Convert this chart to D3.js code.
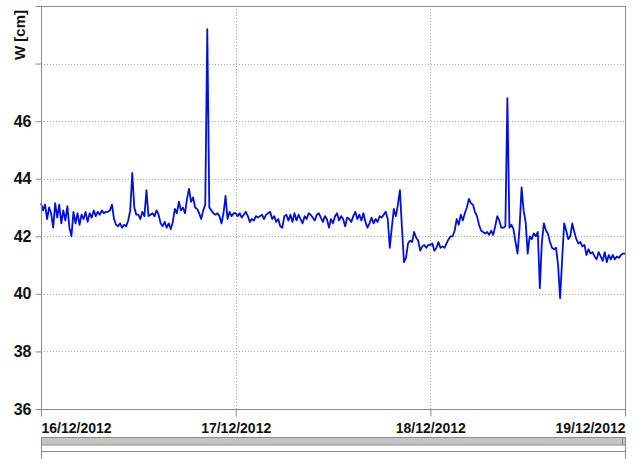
<!DOCTYPE html>
<html>
<head>
<meta charset="utf-8">
<script src="https://cdn.jsdelivr.net/npm/d3@7"></script>
<style>
  html, body { margin: 0; padding: 0; background: #fff; }
  svg { display: block; }
  text { font-family: "Liberation Sans", Arial, sans-serif; font-weight: bold; fill: #111; }
</style>
</head>
<body>
<svg id="chart" width="634" height="459"></svg>
<script>
// ---- data ----
const startDate = "2012-12-16T00:00:00Z";
const stepMinutes = 15;
const levelValues = [
  43.15, 42.9, 43.1, 42.6, 43.0, 42.8, 42.3, 43.15, 42.65, 43.1, 42.45, 42.9,
  42.55, 43.05, 42.3, 42.0, 42.85, 42.45, 42.8, 42.4, 42.75, 42.6, 42.85, 42.5,
  42.8, 42.65, 42.9, 42.7, 42.85, 42.75, 42.9, 42.8, 42.85, 42.85, 42.9, 43.1,
  42.6, 42.4, 42.35, 42.45, 42.3, 42.4, 42.35, 42.55, 42.9, 44.2, 43.0, 42.75,
  42.75, 42.6, 42.85, 42.7, 43.6, 42.7, 42.75, 42.8, 42.7, 42.9, 42.75, 42.45,
  42.35, 42.5, 42.3, 42.45, 42.25, 42.5, 42.95, 42.8, 43.2, 42.9, 43.0, 42.8,
  43.3, 43.65, 43.2, 43.35, 43.0, 42.95, 42.8, 42.6, 42.9, 43.1, 49.2, 43.0,
  42.9, 42.8, 42.75, 42.8, 42.7, 42.45, 42.8, 43.4, 42.6, 42.85, 42.7, 42.8,
  42.8, 42.7, 42.8, 42.65, 42.75, 42.85, 42.7, 42.5, 42.6, 42.55, 42.7, 42.65,
  42.7, 42.75, 42.6, 42.75, 42.8, 42.85, 42.6, 42.7, 42.5, 42.6, 42.35, 42.3,
  42.7, 42.75, 42.55, 42.75, 42.5, 42.8, 42.55, 42.75, 42.6, 42.45, 42.7, 42.6,
  42.8, 42.75, 42.65, 42.55, 42.75, 42.8, 42.65, 42.5, 42.7, 42.6, 42.3, 42.6,
  42.45, 42.7, 42.8, 42.55, 42.7, 42.6, 42.35, 42.65, 42.6, 42.5, 42.7, 42.85,
  42.6, 42.75, 42.55, 42.8, 42.5, 42.3, 42.45, 42.65, 42.45, 42.6, 42.5, 42.7,
  42.65, 42.75, 42.85, 42.6, 41.6, 42.3, 42.95, 42.7, 43.1, 43.6, 42.3, 41.1,
  41.25, 41.75, 41.85, 41.8, 42.15, 41.95, 41.85, 41.5, 41.65, 41.7, 41.6, 41.7,
  41.7, 41.75, 41.5, 41.6, 41.8, 41.6, 41.65, 41.6, 41.75, 41.9, 42.0, 42.0,
  42.2, 42.6, 42.4, 42.75, 42.55, 42.8, 43.0, 43.3, 43.15, 43.1, 42.85, 42.7,
  42.4, 42.2, 42.15, 42.1, 42.15, 42.05, 42.2, 42.05, 42.35, 42.7, 42.55, 42.3,
  42.3, 42.35, 46.8, 42.3, 42.4, 42.25, 41.8, 41.4, 42.3, 43.7, 42.9, 42.5,
  41.4, 42.0, 41.9, 42.1, 42.0, 42.15, 40.2, 41.8, 42.45, 42.2, 42.1, 41.8,
  41.6, 41.55, 41.6, 41.0, 39.85, 41.2, 42.45, 42.2, 41.9, 42.0, 42.45, 42.15,
  41.9, 41.75, 41.8, 41.65, 41.7, 41.35, 41.55, 41.4, 41.45, 41.3, 41.2, 41.45,
  41.3, 41.15, 41.45, 41.1, 41.35, 41.2, 41.35, 41.2, 41.3, 41.25, 41.35, 41.4,
  41.4
];
const xTickDates = ["2012-12-16T00:00:00Z", "2012-12-17T00:00:00Z", "2012-12-18T00:00:00Z", "2012-12-19T00:00:00Z"];
const yTicks = [36, 38, 40, 42, 44, 46, 48, 50];
const yLabelTicks = [36, 38, 40, 42, 44, 46];
const yTitle = "W [cm]";

// ---- layout ----
const mLeft = 41, mRight = 625, mTop = 6, mBottom = 409;
const svg = d3.select("#chart");
const t0 = new Date(startDate);
const points = levelValues.map((v, i) => ({ t: new Date(t0.getTime() + i * stepMinutes * 60000), v }));
const xDates = xTickDates.map(d => new Date(d));

const x = d3.scaleUtc().domain([xDates[0], xDates[xDates.length - 1]]).range([mLeft, mRight]);
const y = d3.scaleLinear().domain([36, 50]).range([mBottom, mTop]);

const gridColor = "#a8a8a8";
const axisColor = "#8a8a8a";

// horizontal grid
svg.append("g").selectAll("line")
  .data(yTicks.filter(d => d > 36 && d < 50))
  .join("line")
  .attr("x1", mLeft).attr("x2", mRight)
  .attr("y1", d => Math.round(y(d)) + 0.5).attr("y2", d => Math.round(y(d)) + 0.5)
  .attr("stroke", gridColor).attr("stroke-width", 1).attr("stroke-dasharray", "1,2");

// vertical grid
svg.append("g").selectAll("line")
  .data(xDates.slice(1, -1))
  .join("line")
  .attr("x1", d => Math.round(x(d)) + 0.5).attr("x2", d => Math.round(x(d)) + 0.5)
  .attr("y1", mTop).attr("y2", mBottom)
  .attr("stroke", gridColor).attr("stroke-width", 1).attr("stroke-dasharray", "1,2");

// line
const line = d3.line().x(d => x(d.t)).y(d => y(d.v));
svg.append("path").datum(points)
  .attr("d", line)
  .attr("fill", "none")
  .attr("stroke", "#0010d8")
  .attr("stroke-width", 1.8)
  .attr("stroke-linejoin", "round");

// frame
svg.append("rect")
  .attr("x", mLeft + 0.5).attr("y", mTop + 0.5)
  .attr("width", mRight - mLeft).attr("height", mBottom - mTop)
  .attr("fill", "none").attr("stroke", axisColor).attr("stroke-width", 1);

// y axis
const yAxis = d3.axisLeft(y).tickValues(yTicks).tickSize(6).tickPadding(4)
  .tickFormat(d => yLabelTicks.includes(d) ? d3.format("d")(d) : "");
const gy = svg.append("g").attr("transform", `translate(${mLeft + 0.5},0)`).call(yAxis);
gy.select(".domain").remove();
gy.selectAll(".tick line").attr("stroke", axisColor);
gy.selectAll(".tick text").attr("font-size", 16).attr("font-weight", "bold")
  .attr("fill", "#111").style("font-family", "'Liberation Sans', Arial, sans-serif");

// x axis
const xAxis = d3.axisBottom(x).tickValues(xDates).tickSize(7).tickPadding(7)
  .tickFormat(d3.utcFormat("%d/%m/%Y"));
const gx = svg.append("g").attr("transform", `translate(0,${mBottom + 0.5})`).call(xAxis);
gx.select(".domain").remove();
gx.selectAll(".tick line").attr("stroke", axisColor);
gx.selectAll(".tick text").attr("font-size", 14).attr("font-weight", "bold")
  .attr("fill", "#111").style("font-family", "'Liberation Sans', Arial, sans-serif")
  .attr("text-anchor", (d, i) => i === 0 ? "start" : (i === xDates.length - 1 ? "end" : "middle"));

// y title
svg.append("text")
  .attr("transform", `translate(25,60) rotate(-90)`)
  .attr("text-anchor", "start")
  .attr("font-size", 15)
  .text(yTitle);

// scrollbar strip
svg.append("rect")
  .attr("x", mLeft + 0.5).attr("y", 437.5)
  .attr("width", mRight - mLeft).attr("height", 7.5)
  .attr("fill", "#c4c4c4").attr("stroke", "#8a8a8a").attr("stroke-width", 1);
svg.append("line")
  .attr("x1", mRight - 2.5).attr("x2", mRight - 2.5).attr("y1", 437.5).attr("y2", 445)
  .attr("stroke", "#8a8a8a");
svg.append("line")
  .attr("x1", mLeft + 0.5).attr("x2", mRight + 0.5).attr("y1", 451.5).attr("y2", 451.5)
  .attr("stroke", "#8a8a8a");
svg.append("line")
  .attr("x1", mLeft + 0.5).attr("x2", mLeft + 0.5).attr("y1", 445).attr("y2", 459)
  .attr("stroke", "#8a8a8a");
svg.append("line")
  .attr("x1", mRight + 0.5).attr("x2", mRight + 0.5).attr("y1", 445).attr("y2", 459)
  .attr("stroke", "#8a8a8a");
</script>
</body>
</html>
